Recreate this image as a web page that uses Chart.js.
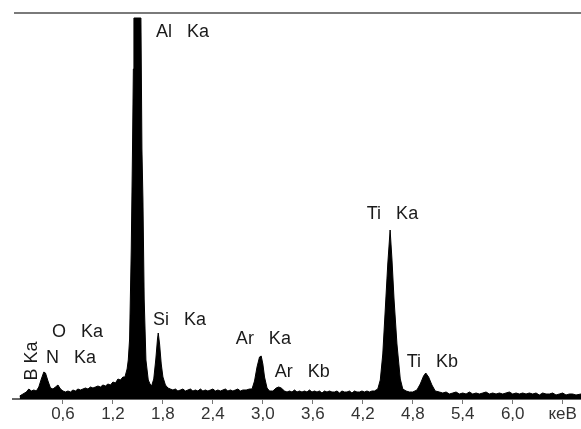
<!DOCTYPE html>
<html>
<head>
<meta charset="utf-8">
<script src="https://cdn.jsdelivr.net/npm/chart.js@4.4.1/dist/chart.umd.min.js"></script>
<style>
    body { margin: 0; background: #fff; }
    canvas { display: block; }
</style>
</head>
<body>
<canvas id="spectre" width="581" height="429"></canvas>
<script>
// Données du spectre (énergie en keV, intensité en unités relatives)
const energie = [
    0.08, 0.12, 0.16, 0.19, 0.22, 0.25, 0.28, 0.31, 0.34, 0.37, 0.39, 0.42, 0.45, 0.48, 0.51, 0.54, 0.57,
    0.60, 0.63, 0.66, 0.69, 0.72, 0.75, 0.78, 0.81, 0.84, 0.87, 0.90, 0.93, 0.96, 0.99, 1.02, 1.05, 1.08, 1.11, 1.14, 1.17, 1.20, 1.23, 1.26, 1.29, 1.32,
    1.344, 1.37, 1.384, 1.40, 1.42, 1.435, 1.445, 1.452, 1.536, 1.548, 1.56, 1.575, 1.596, 1.624, 1.645,
    1.664, 1.69, 1.715, 1.735, 1.744, 1.76, 1.78, 1.80, 1.83,
    1.86, 1.89, 1.92, 1.95, 1.98, 2.01, 2.04, 2.07, 2.10, 2.13, 2.16, 2.19, 2.22, 2.25, 2.28, 2.31, 2.34, 2.37, 2.40, 2.43, 2.46, 2.49, 2.52, 2.55, 2.58, 2.61, 2.64, 2.67, 2.70, 2.73, 2.76, 2.80, 2.84,
    2.87, 2.90, 2.93, 2.96, 2.98, 3.00, 3.02, 3.05, 3.08, 3.12, 3.16, 3.19, 3.22,
    3.26, 3.29, 3.32, 3.35, 3.38, 3.41, 3.44, 3.47, 3.50, 3.53, 3.56, 3.59, 3.62, 3.65, 3.68, 3.71, 3.74, 3.77, 3.80, 3.83, 3.86, 3.89, 3.92, 3.95, 3.98, 4.01, 4.04, 4.07, 4.10, 4.13, 4.16, 4.19, 4.22, 4.25, 4.28, 4.31,
    4.34, 4.38, 4.41, 4.44, 4.47, 4.50, 4.528, 4.55, 4.575, 4.61, 4.65, 4.68, 4.72, 4.76,
    4.80, 4.85, 4.89, 4.93, 4.956, 4.99, 5.03, 5.07,
    5.12, 5.16, 5.20, 5.24, 5.28, 5.32, 5.36, 5.40, 5.44, 5.48, 5.52, 5.56, 5.60, 5.64, 5.68, 5.72, 5.76, 5.80, 5.84, 5.88, 5.92, 5.96, 6.00, 6.04, 6.08, 6.12, 6.16, 6.20, 6.24, 6.28, 6.32, 6.36, 6.40, 6.44, 6.48, 6.52, 6.56, 6.60, 6.64, 6.68, 6.72, 6.76, 6.82
];
const comptes = [
    3, 5, 7, 10, 8, 9, 8, 12, 20, 27, 26, 18, 11, 10, 12, 14, 10,
    8, 7, 8, 7, 9, 8, 10, 9, 10, 11, 10, 12, 11, 12, 13, 12, 14, 13, 15, 14, 17, 16, 20, 19, 22,
    22, 30, 39, 60, 150, 250, 330, 381, 381, 250, 200, 100, 39, 19, 15,
    13, 20, 40, 60, 66, 55, 35, 22, 14,
    11, 10, 9, 10, 8, 9, 10, 8, 9, 10, 8, 9, 8, 10, 8, 9, 8, 9, 10, 8, 9, 8, 9, 10, 8, 9, 8, 9, 10, 8, 9, 9, 10,
    10, 18, 32, 42, 43, 35, 22, 11, 8, 8, 11, 12, 11,
    8, 7, 8, 7, 9, 7, 8, 7, 8, 7, 9, 7, 8, 7, 8, 6, 8, 7, 8, 7, 7, 8, 6, 8, 7, 7, 8, 6, 8, 7, 7, 8, 7, 8, 7, 8,
    8, 10, 19, 45, 90, 135, 169, 140, 100, 55, 20, 10, 8, 7,
    7, 9, 15, 23, 26, 22, 14, 8,
    7, 6, 7, 5, 6, 7, 5, 6, 5, 7, 5, 6, 5, 6, 7, 5, 6, 5, 6, 5, 6, 7, 5, 6, 5, 6, 5, 6, 5, 6, 4, 6, 5, 5, 6, 4, 5, 6, 4, 5, 5, 4, 5
];

// Graduations de l'axe des énergies
const graduations = [0.6, 1.2, 1.8, 2.4, 3.0, 3.6, 4.2, 4.8, 5.4, 6.0, 6.6];
const uniteEnergie = 'кеВ';

// Raies identifiées
const raies = ['Al   Ka', 'Si   Ka', 'O   Ka', 'N   Ka', 'B Ka', 'Ar   Ka', 'Ar   Kb', 'Ti   Ka', 'Ti   Kb'];
const raiesEnergie = [1.716, 1.68, 0.468, 0.396, 0.228, 2.676, 3.144, 4.248, 4.728];
const raiesHauteur = [367, 79, 67, 41, 38, 60, 27, 185, 37];

const police = '"Liberation Sans", Arial, sans-serif';

// Plugin pour le cadre du haut et les noms des raies
const decor = {
    id: 'decor',
    afterDatasetsDraw(chart) {
        const { ctx, chartArea, scales } = chart;
        ctx.save();
        ctx.strokeStyle = '#7a7a7a';
        ctx.lineWidth = 2;
        ctx.beginPath();
        ctx.moveTo(chartArea.left + 1, chartArea.top);
        ctx.lineTo(chart.width, chartArea.top);
        ctx.stroke();

        ctx.fillStyle = '#1a1a1a';
        ctx.font = '18px ' + police;
        ctx.textBaseline = 'middle';
        raies.forEach((nom, i) => {
            const x = scales.x.getPixelForValue(raiesEnergie[i]);
            const y = scales.y.getPixelForValue(raiesHauteur[i]);
            if (nom === 'B Ka') {
                // texte vertical
                ctx.save();
                ctx.translate(x, y);
                ctx.rotate(-Math.PI / 2);
                ctx.textAlign = 'center';
                ctx.fillText(nom, 0, 0);
                ctx.restore();
            } else {
                ctx.textAlign = 'left';
                ctx.fillText(nom, x, y);
            }
        });
        ctx.restore();
    }
};

const ctx = document.getElementById('spectre').getContext('2d');
new Chart(ctx, {
    type: 'line',
    data: {
        datasets: [{
            data: energie.map((e, i) => ({ x: e, y: comptes[i] })),
            borderColor: '#000',
            backgroundColor: '#000',
            borderWidth: 1,
            pointRadius: 0,
            fill: 'origin',
            tension: 0
        }]
    },
    options: {
        responsive: false,
        animation: false,
        layout: { padding: { left: 13, top: 13, right: 0, bottom: 0 } },
        plugins: {
            legend: { display: false },
            tooltip: { enabled: false }
        },
        scales: {
            x: {
                type: 'linear',
                min: 0,
                max: 6.82,
                afterBuildTicks: axis => {
                    axis.ticks = graduations.map(v => ({ value: v }));
                },
                afterFit: axis => {
                    axis.height = 30;
                },
                border: { display: true, color: '#666', width: 2 },
                grid: { drawOnChartArea: false, drawTicks: true, tickLength: 5, color: '#777' },
                ticks: {
                    color: '#333',
                    padding: 0,
                    maxRotation: 0,
                    autoSkip: false,
                    font: { family: police, size: 17 },
                    callback: v => (Math.abs(v - 6.6) < 0.01 ? uniteEnergie : v.toFixed(1).replace('.', ','))
                }
            },
            y: {
                display: false,
                min: 0,
                max: 386
            }
        }
    },
    plugins: [decor]
});
</script>
</body>
</html>
